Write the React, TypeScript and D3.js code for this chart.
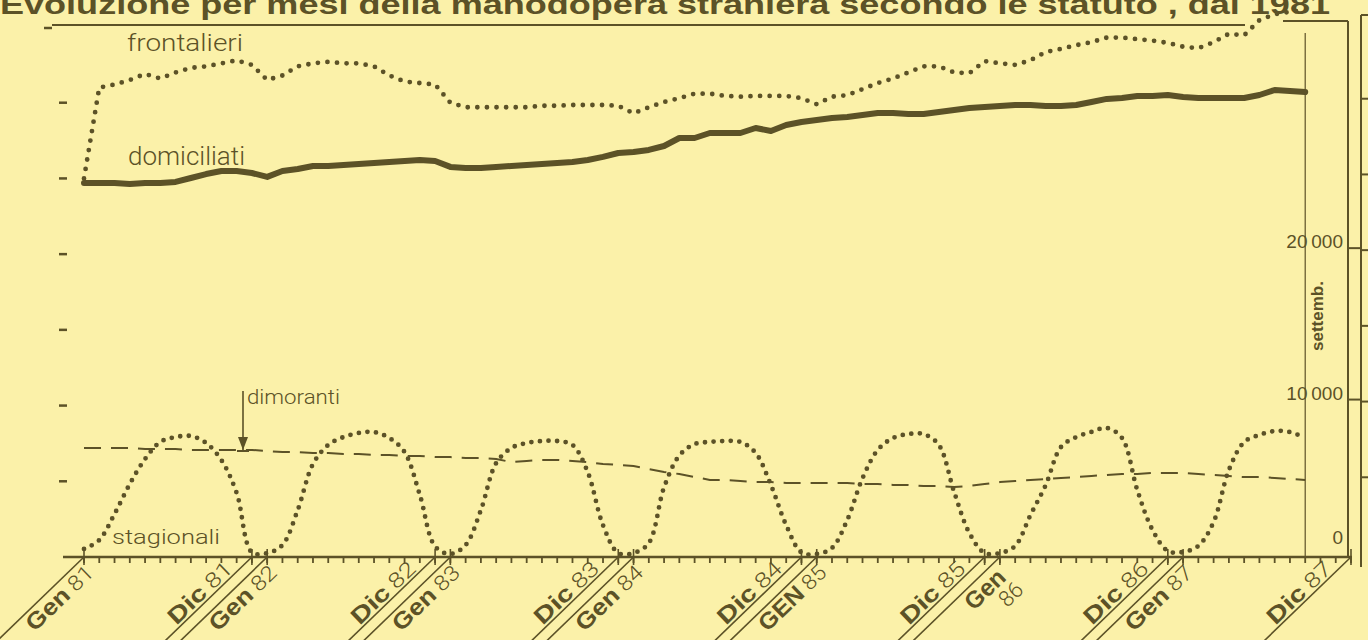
import React from 'react';
import * as d3 from 'd3';

// ---- data (monthly, Gen 81 = index 0, last point = Sett 87) ----
const frontalieri = [
  25000, 31000, 31200, 31500, 31900, 31600, 32000, 32300, 32400, 32600, 32800, 32500,
  31500, 31800, 32400, 32600, 32700, 32600, 32600, 32400, 31800, 31400, 31300, 31200,
  30000, 29700, 29700, 29700, 29700, 29700, 29800, 29800, 29850, 29850, 29850, 29800,
  29300, 29700, 30050, 30300, 30600, 30600, 30450, 30400, 30450, 30450, 30450, 30300,
  29900, 30400, 30500, 30900, 31300, 31600, 32000, 32400, 32400, 32000, 31950, 32750,
  32600, 32500, 32800, 33350, 33550, 33800, 34000, 34300, 34300, 34200, 34100, 33950,
  33700, 33600, 34000, 34550, 34450, 35450, 35850, 36000, 36100,
];
const domiciliati = [
  24700, 24700, 24700, 24630, 24700, 24700, 24770, 25030, 25290, 25490, 25490, 25360,
  25100, 25490, 25620, 25820, 25820, 25890, 25950, 26020, 26090, 26150, 26220, 26150,
  25760, 25690, 25690, 25760, 25820, 25890, 25950, 26020, 26090, 26220, 26420, 26680,
  26750, 26880, 27140, 27670, 27670, 28000, 28000, 28000, 28330, 28130, 28530, 28730,
  28860, 28990, 29060, 29190, 29320, 29320, 29260, 29260, 29390, 29520, 29650, 29720,
  29780, 29850, 29850, 29780, 29780, 29850, 30050, 30250, 30310, 30440, 30440, 30510,
  30380, 30310, 30310, 30310, 30310, 30510, 30840, 30780, 30710,
];
const dimoranti = [
  7200, 7200, 7200, 7200, 7130, 7130, 7130, 7070, 7070, 7070, 7070, 7070,
  7000, 6930, 6930, 6870, 6870, 6800, 6800, 6740, 6740, 6670, 6670, 6600,
  6600, 6540, 6540, 6470, 6270, 6340, 6410, 6410, 6340, 6270, 6140, 6080,
  6010, 5810, 5610, 5480, 5280, 5090, 5090, 5020, 4950, 4950, 4890, 4890,
  4890, 4890, 4890, 4820, 4820, 4760, 4760, 4690, 4690, 4620, 4690, 4820,
  4950, 5020, 5090, 5150, 5220, 5280, 5350, 5420, 5480, 5480, 5550, 5550,
  5550, 5480, 5420, 5350, 5280, 5280, 5220, 5150, 5090,
];
const stagionali = [
  530, 1120, 2840, 4820, 6470, 7600, 7920, 7990, 7530, 6400, 4230, 300,
  250, 790, 3100, 6140, 7400, 7920, 8190, 8250, 7860, 6930, 4100, 700,
  200, 790, 3100, 6200, 7200, 7530, 7660, 7660, 7400, 5600, 2100, 260,
  260, 920, 4600, 6700, 7460, 7600, 7660, 7600, 6870, 4750, 2100, 300,
  200, 600, 2440, 5200, 7070, 7860, 8120, 8120, 7400, 4300, 1580, 260,
  260, 730, 2770, 4750, 7260, 7920, 8260, 8520, 7860, 4420, 1780, 400,
  330, 730, 2310, 5740, 7590, 8060, 8320, 8250, 7860,
];

const tickMonths = [0, 11, 12, 23, 24, 35, 36, 47, 48, 59, 60, 71, 72, 83];
const tickWords = ['Gen', 'Dic', 'Gen', 'Dic', 'Gen', 'Dic', 'Gen', 'Dic', 'GEN', 'Dic', 'Gen', 'Dic', 'Gen', 'Dic'];
const tickYears = ['81', '81', '82', '82', '83', '83', '84', '84', '85', '85', '86', '86', '87', '87'];

const rightLabelValues = [20000, 10000, 0];
const rightLabelTexts = ['20\u2009000', '10\u2009000', '0'];
const leftDashValues = [5000, 10000, 15000, 20000, 25000, 30000];

const TITLE = 'Evoluzione  per mesi della  manodopera  straniera  secondo  le  statuto , dal 1981';

const BG = '#fbf1a9';
const INK = '#5c5227';
const FONT = '"Liberation Sans", Arial, sans-serif';
const LIGHT = 'Roboto, "Liberation Sans", sans-serif';
const ANG = -44;

export default function App() {
  const x = d3.scaleLinear().domain([0, 83]).range([84, 1351]);
  const y = d3.scaleLinear().domain([0, 35000]).range([557, 27]);
  const base = y(0);
  const pts = (arr: number[]) => arr.map((v, i) => [i, v] as [number, number]);
  const lin = d3.line<[number, number]>().x(d => x(d[0])).y(d => y(d[1]));
  const smooth = d3
    .line<[number, number]>()
    .x(d => x(d[0]))
    .y(d => y(d[1]))
    .curve(d3.curveCatmullRom.alpha(0.5));

  const months = d3.range(0, 84);
  const topY = y(35000) - 2;
  const setX = x(80);

  return (
    <svg
      width={1368}
      height={640}
      style={{ position: 'fixed', left: 0, top: 0, background: BG }}
    >
      <rect x={0} y={0} width={1368} height={640} fill={BG} />

      {/* title, cut at the top edge as in the scan */}
      <text
        x={0}
        y={14}
        fontFamily={FONT}
        fontWeight={900}
        fontSize={27}
        fill={INK}
        textLength={1330}
        lengthAdjust="spacingAndGlyphs"
      >
        {TITLE}
      </text>

      {/* frame */}
      <line x1={44} x2={52} y1={topY + 3} y2={topY + 3} stroke={INK} strokeWidth={2.5} />
      <line x1={52} x2={1245} y1={topY} y2={topY} stroke={INK} strokeWidth={2.2} />
      <line x1={1283} x2={1348} y1={topY - 4} y2={topY - 4} stroke={INK} strokeWidth={2} />
      <line x1={1348} x2={1348} y1={topY - 4} y2={base} stroke={INK} strokeWidth={2} />
      <line x1={1361} x2={1361} y1={topY - 10} y2={base + 10} stroke={INK} strokeWidth={2} />
      <line x1={1361} x2={1368} y1={topY - 10} y2={topY - 10} stroke={INK} strokeWidth={2} />
      {[5000, 10000, 15000, 20000, 25000, 30000].map(v => (
        <line key={'rt' + v} x1={1361} x2={1368} y1={y(v) - 4} y2={y(v) - 4} stroke={INK} strokeWidth={2} />
      ))}
      {rightLabelValues.filter(v => v > 0).map(v => (
        <line key={'rl' + v} x1={1348} x2={1361} y1={y(v) - 6} y2={y(v) - 6} stroke={INK} strokeWidth={2} />
      ))}

      {/* settembre marker */}
      <line x1={setX} x2={setX} y1={topY + 8} y2={base} stroke={INK} strokeWidth={1.2} />
      <text
        transform={`translate(${setX + 18},316) rotate(-90)`}
        textAnchor="middle"
        fontFamily={FONT}
        fontWeight={700}
        fontSize={17}
        fill={INK}
      >
        settemb.
      </text>

      {/* left dashes */}
      {leftDashValues.map(v => (
        <line key={'ld' + v} x1={59} x2={67} y1={y(v)} y2={y(v)} stroke={INK} strokeWidth={2.5} />
      ))}

      {/* right labels */}
      {rightLabelValues.map((v, i) => (
        <text
          key={'rlab' + v}
          x={1343}
          y={y(v) - (v === 0 ? 13 : 6)}
          textAnchor="end"
          fontFamily={FONT}
          fontSize={19}
          fill={INK}
        >
          {rightLabelTexts[i]}
        </text>
      ))}

      {/* x axis */}
      <line x1={63} x2={1352} y1={base} y2={base} stroke={INK} strokeWidth={2.5} />
      {months.map(m => (
        <line key={'mt' + m} x1={x(m)} x2={x(m)} y1={base} y2={base + 6} stroke={INK} strokeWidth={1.8} />
      ))}
      {tickMonths.map((m, i) => {
        const isGen = tickWords[i].toLowerCase() === 'gen';
        const wrap = isGen && tickYears[i] === '86';
        return (
          <g key={'tl' + i} transform={`translate(${x(m)},${base}) rotate(${ANG})`}>
            <line x1={0} x2={-122} y1={0} y2={0} stroke={INK} strokeWidth={1.6} />
            <line x1={0} x2={0} y1={-8} y2={8} stroke={INK} strokeWidth={1.6} transform={`rotate(${-ANG})`} />
            {wrap ? (
              <>
                <text x={-10} y={21} textAnchor="end" fontFamily={FONT} fontWeight={900} fontSize={24} fill={INK}>
                  {tickWords[i]}
                </text>
                <text x={-6} y={42} textAnchor="end" fontFamily={LIGHT} fontWeight={300} fontSize={22} fill={INK}>
                  {tickYears[i]}
                </text>
              </>
            ) : (
              <text
                x={isGen ? -4 : -22}
                y={isGen ? 20 : -3}
                textAnchor="end"
                fill={INK}
                textLength={isGen ? 84 : 80}
                lengthAdjust="spacingAndGlyphs"
              >
                <tspan fontFamily={FONT} fontWeight={900} fontSize={23}>
                  {tickWords[i]}
                </tspan>
                <tspan fontFamily={LIGHT} fontWeight={300} fontSize={21} dx={5}>
                  {tickYears[i]}
                </tspan>
              </text>
            )}
          </g>
        );
      })}

      {/* series */}
      <path d={lin(pts(dimoranti)) || ''} fill="none" stroke={INK} strokeWidth={2} strokeDasharray="17 10" />
      <path d={lin(pts(domiciliati)) || ''} fill="none" stroke={INK} strokeWidth={6} strokeLinejoin="round" strokeLinecap="round" />
      <path d={lin(pts(frontalieri)) || ''} fill="none" stroke={INK} strokeWidth={4.8} strokeDasharray="0 9.6" strokeLinecap="round" />
      <path d={smooth(pts(stagionali)) || ''} fill="none" stroke={INK} strokeWidth={4.8} strokeDasharray="0 8.6" strokeLinecap="round" />

      {/* series labels */}
      <text x={127} y={51} fontFamily={LIGHT} fontWeight={300} fontSize={24} fill={INK} textLength={116} lengthAdjust="spacingAndGlyphs">
        frontalieri
      </text>
      <text x={128} y={165} fontFamily={LIGHT} fontWeight={300} fontSize={25} fill={INK} textLength={117} lengthAdjust="spacingAndGlyphs">
        domiciliati
      </text>
      <text x={247} y={404} fontFamily={LIGHT} fontWeight={300} fontSize={21} fill={INK} textLength={93} lengthAdjust="spacingAndGlyphs">
        dimoranti
      </text>
      <text x={112} y={544} fontFamily={LIGHT} fontWeight={300} fontSize={21} fill={INK} textLength={108} lengthAdjust="spacingAndGlyphs">
        stagionali
      </text>

      {/* dimoranti arrow */}
      <line x1={243} x2={243} y1={391} y2={450} stroke={INK} strokeWidth={1.6} />
      <path d="M238,437 L248,437 L243,450 Z" fill={INK} />
      <line x1={237} x2={249} y1={451} y2={451} stroke={INK} strokeWidth={2} />
    </svg>
  );
}
